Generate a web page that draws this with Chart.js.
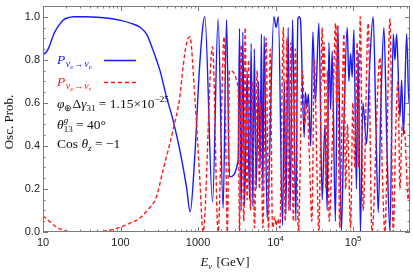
<!DOCTYPE html>
<html>
<head>
<meta charset="utf-8">
<script src="https://cdn.jsdelivr.net/npm/chart.js@4"></script>
<style>
  html, body { margin: 0; padding: 0; background: #fff; }
</style>
</head>
<body>
<canvas id="oscChart" width="413" height="275"></canvas>
<script>
// Values (energy in GeV, probability)
const energyEE = [10, 11, 12, 13, 14, 16, 18, 20, 25, 35, 50, 70, 100, 140, 180, 220, 262, 321, 391, 475,
  581, 708, 790, 906, 1050, 1221, 1535, 1811, 2102, 2326, 2541, 3281, 3421, 3589, 3775, 3970, 4288, 4603,
  4830, 5080, 5310, 5600, 6015, 6310, 6540, 6840, 7110, 7765, 9480, 10150, 10840, 12280, 12950, 13540,
  14500, 15390, 16520, 18220, 19340, 20090, 20840, 23320, 24160, 25270, 26420, 28290, 30200, 32530, 36090,
  39810, 43130, 46190, 48590, 51100, 53580, 58890, 63470, 70410, 75860, 83690, 88020, 92580, 97050, 102100,
  110000, 116000, 123900, 133400, 148900, 164300, 181100, 196300, 210200, 227700, 248900, 272200, 297600,
  328100, 345100, 363100, 400500, 421200, 444300, 488700, 523300, 540000];
const probEE = [0.825, 0.835, 0.86, 0.895, 0.925, 0.96, 0.983, 0.993, 1.0, 1.0, 0.998, 0.993, 0.983, 0.968,
  0.95, 0.915, 0.845, 0.752, 0.628, 0.52, 0.38, 0.21, 0.093, 0.35, 0.78, 1.0, 0.14, 0.99, 0.11, 0.985,
  0.256, 0.333, 0.946, 0.1, 0.93, 0.124, 0.75, 0.15, 0.876, 0.12, 0.85, 0.2, 0.7, 0.3, 0.92, 0.19, 0.91,
  0.06, 1.0, 0.95, 1.0, 0.03, 0.7, 0.08, 0.95, 0.1, 0.985, 0.05, 0.99, 1.0, 0.99, 0.44, 0.65, 0.58, 0.64,
  0.4, 0.93, 0.6, 0.97, 0.15, 0.5, 0.1, 0.88, 0.57, 0.84, 0.05, 0.96, 0.0, 0.5, 0.95, 0.7, 0.83, 0.72,
  0.94, 0.2, 0.83, 0.0, 0.6, 0.41, 0.8, 1.0, 0.5, 0.09, 0.6, 0.95, 0.4, 0.0, 0.92, 0.8, 0.92, 0.535,
  0.705, 0.45, 0.92, 0.6, 0.68];

const energyET = [10, 11, 12, 14, 17, 20, 25, 40, 60, 80, 100, 140, 177, 220, 290, 353, 431, 475, 581, 640,
  708, 782, 906, 1050, 1160, 1535, 1811, 2165, 2382, 2541, 3281, 3421, 3589, 3888, 4042, 4288, 4467, 4744,
  4977, 5342, 5770, 6199, 6386, 6840, 7540, 8100, 8490, 9120, 9765, 10150, 10670, 11330, 12570, 13260,
  13950, 14810, 15710, 16920, 17950, 19630, 22110, 23820, 25270, 27220, 29310, 31580, 34010, 36090, 39810,
  40890, 42120, 44430, 46470, 49020, 53580, 59300, 60900, 62540, 66960, 71500, 75860, 79800, 84200, 92580,
  99100, 105200, 112600, 117400, 123100, 134600, 156200, 174300, 221100, 236600, 256500, 297600, 328100,
  355600, 377500, 400500, 428900, 464500, 512600, 540000];
const probET = [0.075, 0.062, 0.05, 0.03, 0.012, 0.004, 0.0, 0.0, 0.003, 0.012, 0.023, 0.045, 0.064, 0.1,
  0.163, 0.287, 0.41, 0.473, 0.628, 0.767, 0.876, 0.907, 0.63, 0.25, 0.0, 0.86, 0.0, 0.907, 0.0, 0.75,
  0.667, 0.0, 0.87, 0.05, 0.95, 0.15, 0.8, 0.1, 0.7, 0.02, 0.75, 0.2, 0.6, 0.02, 0.9, 0.0, 0.85, 0.02,
  0.07, 0.03, 0.06, 0.02, 0.95, 0.05, 0.9, 0.1, 0.88, 0.05, 0.85, 0.0, 0.75, 0.5, 0.6, 0.35, 0.05, 0.8,
  0.3, 0.0, 0.95, 0.7, 0.88, 0.2, 0.75, 0.05, 0.4, 0.97, 0.6, 0.96, 0.02, 0.5, 0.92, 0.2, 0.5, 0.02, 0.6,
  0.3, 0.88, 0.3, 1.0, 0.1, 0.97, 0.0, 0.81, 0.3, 0.0, 0.99, 0.0, 0.5, 0.7, 0.2, 0.5, 0.45, 0.15, 0.3];

const xTickValues = [10, 100, 1000, 1e4, 1e5];
const xTickLabels = ['10', '100', '1000', '10^4', '10^5'];
const yTickValues = [0, 0.2, 0.4, 0.6, 0.8, 1.0];

const SERIF = '"Liberation Serif", "Times New Roman", serif';
const SANS = '"Liberation Sans", Arial, sans-serif';
const BLUE = 'rgb(25,25,255)';
const RED = 'rgb(255,25,25)';

// draw a run of text pieces with sub/superscripts
function drawRuns(ctx, x, y, runs) {
  for (const r of runs) {
    ctx.font = r.f;
    ctx.fillText(r.t, x, y + (r.dy || 0));
    if (!r.stack) x += ctx.measureText(r.t).width + (r.gap || 0);
  }
  return x;
}

function runsWidth(ctx, runs) {
  let w = 0;
  for (const r of runs) {
    ctx.font = r.f;
    if (!r.stack) w += ctx.measureText(r.t).width + (r.gap || 0);
  }
  return w;
}

const frameTicks = {
  id: 'frameTicks',
  afterDatasetsDraw(chart) {
    const { ctx, chartArea: a, scales: { x, y } } = chart;
    ctx.save();
    ctx.strokeStyle = '#7a7a7a';
    ctx.lineWidth = 1;
    ctx.strokeRect(a.left + 0.5, a.top + 0.5, a.right - a.left - 1, a.bottom - a.top - 1);
    ctx.beginPath();
    for (let d = 10; d <= 1e6; d *= 10) {
      for (let m = 1; m <= 9; m++) {
        const v = d * m;
        if (v < x.min || v > x.max) continue;
        const px = Math.round(x.getPixelForValue(v)) + 0.5;
        const len = m === 1 ? 5 : 2.5;
        ctx.moveTo(px, a.bottom); ctx.lineTo(px, a.bottom - len);
        ctx.moveTo(px, a.top); ctx.lineTo(px, a.top + len);
      }
    }
    for (let i = 0; i <= 21; i++) {
      const py = Math.round(y.getPixelForValue(i * 0.05)) + 0.5;
      const len = i % 4 === 0 ? 5 : 2.5;
      ctx.moveTo(a.left, py); ctx.lineTo(a.left + len, py);
      ctx.moveTo(a.right, py); ctx.lineTo(a.right - len, py);
    }
    ctx.stroke();
    ctx.restore();
  },
  afterDraw(chart) {
    const { ctx, chartArea: a, scales: { x } } = chart;
    ctx.save();
    ctx.textBaseline = 'alphabetic';
    ctx.textAlign = 'left';

    // x tick labels (with superscripts)
    ctx.fillStyle = '#222';
    xTickValues.forEach((v, i) => {
      const parts = xTickLabels[i].split('^');
      const runs = [{ t: parts[0], f: '11px ' + SANS }];
      if (parts[1]) runs.push({ t: parts[1], f: '8px ' + SANS, dy: -5 });
      const w = runsWidth(ctx, runs);
      drawRuns(ctx, x.getPixelForValue(v) - w / 2, a.bottom + 14, runs);
    });

    // axis titles
    ctx.fillStyle = '#111';
    const xt = [
      { t: 'E', f: 'italic 13px ' + SERIF },
      { t: 'ν', f: 'italic 8.5px ' + SERIF, dy: 3, gap: 1 },
      { t: ' [GeV]', f: '13px ' + SERIF }
    ];
    drawRuns(ctx, 225 - runsWidth(ctx, xt) / 2, 266, xt);

    ctx.save();
    ctx.translate(13, 122);
    ctx.rotate(-Math.PI / 2);
    ctx.font = '13px ' + SERIF;
    ctx.textAlign = 'center';
    ctx.fillText('Osc. Prob.', 0, 0);
    ctx.restore();
    ctx.textAlign = 'left';

    // legend
    const legendItem = (yBase, color, last) => {
      ctx.fillStyle = color;
      drawRuns(ctx, 57, yBase, [
        { t: 'P', f: 'italic 13.5px ' + SERIF, gap: 0.5 },
        { t: 'ν', f: 'italic 10px ' + SERIF, dy: 3 },
        { t: 'e', f: 'italic 7px ' + SERIF, dy: 5, gap: 1 },
        { t: '→', f: '9px ' + SERIF, dy: 2.5, gap: 1 },
        { t: 'ν', f: 'italic 10px ' + SERIF, dy: 3 },
        { t: last, f: 'italic 7px ' + SERIF, dy: 5 }
      ]);
    };
    legendItem(64, BLUE, 'e');
    legendItem(86, RED, 'τ');

    ctx.lineWidth = 1.5;
    ctx.strokeStyle = BLUE;
    ctx.beginPath(); ctx.moveTo(104, 60.5); ctx.lineTo(136, 60.5); ctx.stroke();
    ctx.strokeStyle = RED;
    ctx.setLineDash([4, 3]);
    ctx.beginPath(); ctx.moveTo(104, 82.5); ctx.lineTo(136, 82.5); ctx.stroke();
    ctx.setLineDash([]);

    // parameter notes
    ctx.fillStyle = '#111';
    const it = 'italic 13.5px ' + SERIF, rm = '13.5px ' + SERIF;
    drawRuns(ctx, 57, 108, [
      { t: 'φ', f: it },
      { t: '⊕', f: '9px ' + SERIF, dy: 3 },
      { t: 'Δ', f: rm },
      { t: 'γ', f: it },
      { t: '31', f: '9px ' + SERIF, dy: 3 },
      { t: ' = 1.15×10', f: rm },
      { t: '−25', f: '9px ' + SERIF, dy: -6 }
    ]);
    drawRuns(ctx, 57, 129, [
      { t: 'θ', f: it },
      { t: 'g', f: 'italic 9px ' + SERIF, dy: -6, stack: true },
      { t: '13', f: '9px ' + SERIF, dy: 3 },
      { t: ' = 40°', f: rm }
    ]);
    drawRuns(ctx, 57, 148, [
      { t: 'Cos ', f: rm },
      { t: 'θ', f: it },
      { t: 'z', f: 'italic 9px ' + SERIF, dy: 3 },
      { t: ' = −1', f: rm }
    ]);
    ctx.restore();
  }
};

const ctx = document.getElementById('oscChart');

new Chart(ctx, {
  type: 'line',
  data: {
    datasets: [{
      label: 'P(νe→νe)',
      data: energyEE.map((e, i) => ({ x: e, y: probEE[i] })),
      borderColor: BLUE,
      borderWidth: 1.4,
      pointRadius: 0,
      cubicInterpolationMode: 'monotone',
      tension: 0.4,
      fill: false,
      order: 2
    }, {
      label: 'P(νe→ντ)',
      data: energyET.map((e, i) => ({ x: e, y: probET[i] })),
      borderColor: RED,
      borderWidth: 1.4,
      borderDash: [4, 2.5],
      pointRadius: 0,
      cubicInterpolationMode: 'monotone',
      tension: 0.4,
      fill: false,
      order: 1
    }]
  },
  options: {
    responsive: false,
    animation: false,
    layout: { padding: { left: 0, right: 3, top: 6, bottom: 0 } },
    plugins: {
      legend: { display: false },
      tooltip: { enabled: false }
    },
    scales: {
      x: {
        type: 'logarithmic',
        min: 10,
        max: 540000,
        grid: { display: false, drawTicks: false },
        border: { display: false },
        ticks: { display: false },
        afterBuildTicks: s => { s.ticks = xTickValues.map(v => ({ value: v })); },
        afterFit: s => { s.height = 43; s.paddingLeft = 0; s.paddingRight = 0; }
      },
      y: {
        min: 0,
        max: 1.05,
        grid: { display: false, drawTicks: false },
        border: { display: false },
        ticks: {
          padding: 3,
          color: '#222',
          font: { family: SANS, size: 11 },
          callback: v => v.toFixed(1)
        },
        afterBuildTicks: s => { s.ticks = yTickValues.map(v => ({ value: v })); },
        afterFit: s => { s.width = 43; s.paddingTop = 0; s.paddingBottom = 0; }
      }
    }
  },
  plugins: [frameTicks]
});
</script>
</body>
</html>
